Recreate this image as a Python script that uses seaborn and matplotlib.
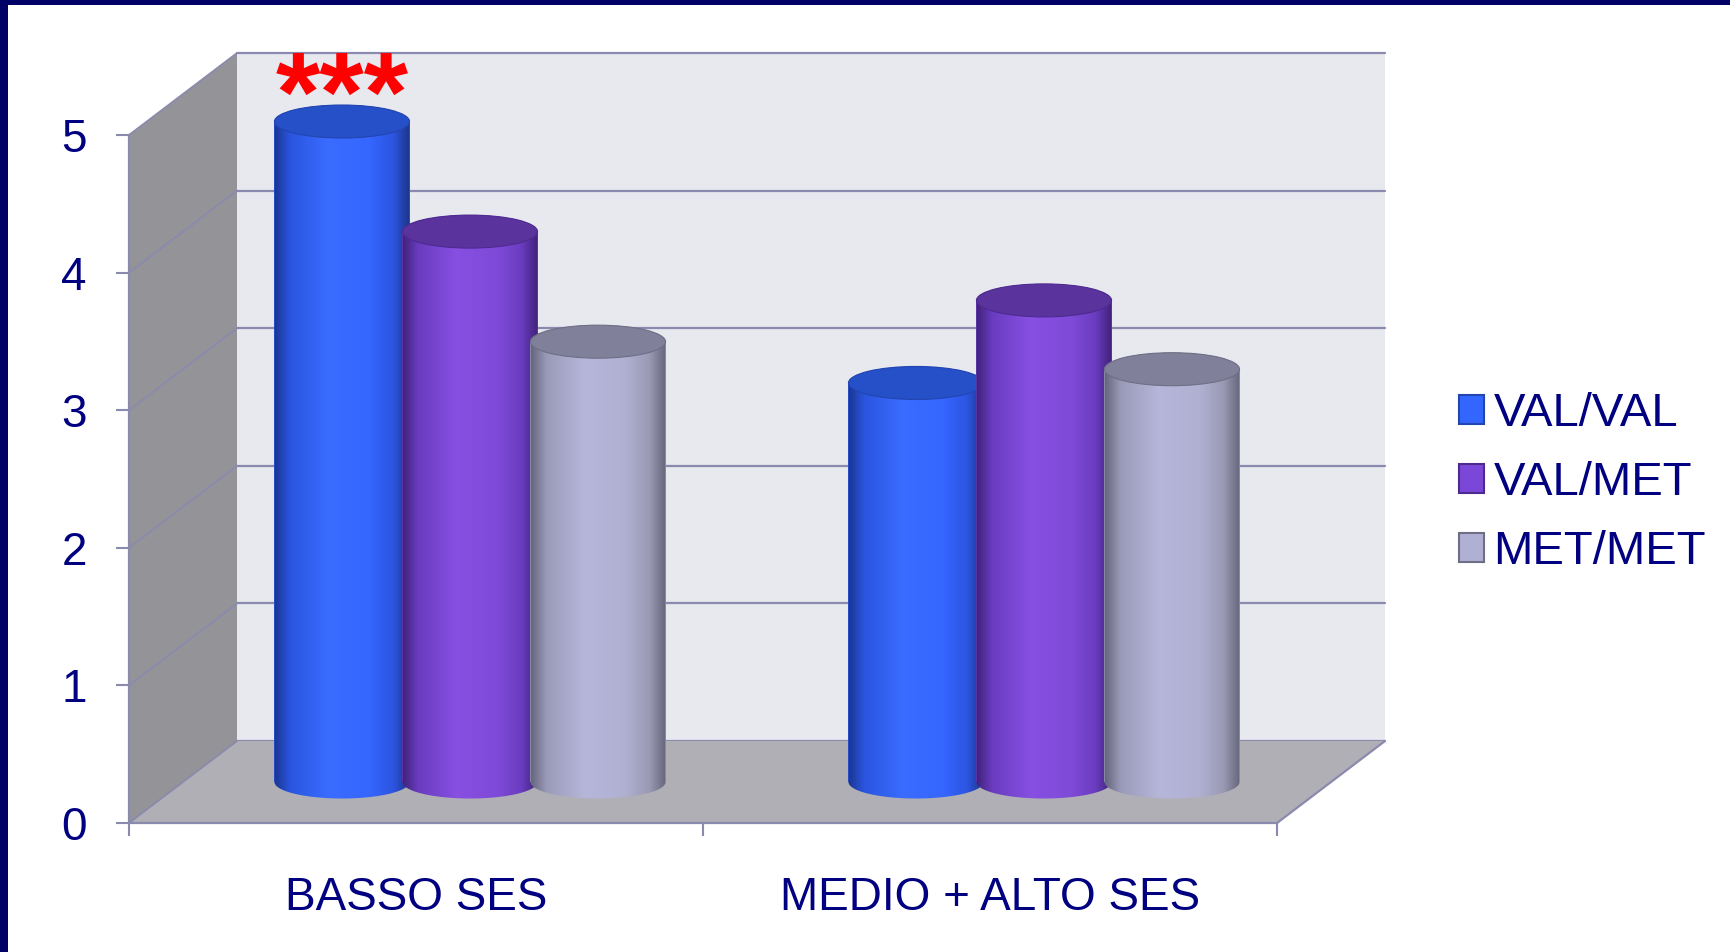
import numpy as np
import pandas as pd
import matplotlib
matplotlib.use("Agg")
import matplotlib.pyplot as plt
import seaborn as sns
from matplotlib.patches import Polygon, Ellipse, PathPatch, Rectangle, Patch
from matplotlib.path import Path
from matplotlib.colors import LinearSegmentedColormap
from matplotlib.lines import Line2D

# ---------------- data ----------------
groups = ["BASSO SES", "MEDIO + ALTO SES"]
genotypes = ["VAL/VAL", "VAL/MET", "MET/MET"]
val_val = [4.8, 2.9]
val_met = [4.0, 3.5]
met_met = [3.2, 3.0]
y_ticks = [0, 1, 2, 3, 4, 5]
significance = ["***", ""]

df = pd.DataFrame({
    "gruppo": groups * 3,
    "genotipo": [g for g in genotypes for _ in groups],
    "valore": val_val + val_met + met_met,
})

# ---------------- style ----------------
sns.set_theme(style="white")
plt.rcParams["font.family"] = ["Liberation Sans", "DejaVu Sans"]
NAVY = "#000080"
GRID = "#8a8aae"
base_colors = {"VAL/VAL": "#3366ff", "VAL/MET": "#7b47d8", "MET/MET": "#b0b0d4"}
edge_colors = {"VAL/VAL": "#2345b0", "VAL/MET": "#4d2a90", "MET/MET": "#6e6e86"}
top_colors = {"VAL/VAL": "#2550c8", "VAL/MET": "#5a349c", "MET/MET": "#80809a"}
grad_colors = {
    "VAL/VAL": ["#1a3590", "#2a55e0", "#3a6cff", "#3566ff", "#2c55e0", "#1c3488"],
    "VAL/MET": ["#3e2278", "#6a3cc0", "#874fe2", "#7f4ad8", "#6a3cc0", "#40227a"],
    "MET/MET": ["#62627a", "#9a9ab8", "#b6b6da", "#b0b0d2", "#9a9ab4", "#66667c"],
}

W, H = 1730, 952
fig = plt.figure(figsize=(W / 100, H / 100), dpi=100)
fig.patch.set_facecolor("white")


def rect(l, top, r, bot):
    return [l / W, 1 - bot / H, (r - l) / W, (bot - top) / H]


def fp(x, y):
    return (x / W, 1 - y / H)


DX, DY = 108, 82
FL, FR, F0, F5 = 129, 1277, 823, 135

ax_back = fig.add_axes(rect(FL + DX, F5 - DY, FR + DX, F0 - DY), zorder=0)
ax_front = fig.add_axes(rect(FL, F5, FR, F0), zorder=1)
ax = fig.add_axes(rect(FL + DX / 2, F5 - DY / 2, FR + DX / 2, F0 - DY / 2), zorder=2)

for a in (ax_back, ax_front, ax):
    a.set_xlim(-0.5, 1.5)
    a.set_ylim(0, 5)

# back wall
ax_back.set_facecolor("#e8e8ef")
for s in ax_back.spines.values():
    s.set_visible(False)
ax_back.set_xticks([])
ax_back.set_yticks([])
for t in y_ticks:
    ax_back.axhline(t, color=GRID, lw=1.6, clip_on=False)

# side wall and floor (3D decoration)
side = Polygon([fp(FL, F0), fp(FL, F5), fp(FL + DX, F5 - DY), fp(FL + DX, F0 - DY)],
               closed=True, transform=fig.transFigure, facecolor="#939398",
               edgecolor="none", zorder=0.5)
floor = Polygon([fp(FL, F0), fp(FL + DX, F0 - DY), fp(FR + DX, F0 - DY), fp(FR, F0)],
                closed=True, transform=fig.transFigure, facecolor="#b0afb5",
                edgecolor="none", zorder=0.5)
fig.add_artist(side)
fig.add_artist(floor)
step = (F0 - F5) / 5
for k in range(6):
    yf = F0 - k * step
    fig.add_artist(Line2D([FL / W, (FL + DX) / W], [1 - yf / H, 1 - (yf - DY) / H],
                          transform=fig.transFigure, color=GRID, lw=1.3, zorder=0.6))
fig.add_artist(Line2D([FR / W, (FR + DX) / W], [1 - F0 / H, 1 - (F0 - DY) / H],
                      transform=fig.transFigure, color=GRID, lw=1.6, zorder=0.6))

# front plane axis
ax_front.set_facecolor("none")
for k, s in ax_front.spines.items():
    s.set_visible(k in ("left", "bottom"))
    s.set_color(GRID)
    s.set_linewidth(1.6)
ax_front.set_yticks(y_ticks)
ax_front.set_yticklabels([str(t) for t in y_ticks])
ax_front.tick_params(axis="y", left=True, direction="out", length=9.5, width=1.5,
                     color=GRID, pad=21, labelsize=33, labelcolor=NAVY)
ax_front.set_xticks([0, 1])
ax_front.set_xticklabels(groups)
ax_front.set_xticks([-0.5, 0.5, 1.5], minor=True)
ax_front.tick_params(axis="x", which="major", bottom=True, length=0, pad=38,
                     labelsize=33, labelcolor=NAVY)
ax_front.tick_params(axis="x", which="minor", bottom=True, direction="out",
                     length=9.5, width=1.5, color=GRID)

# bars (mid-depth plane)
ax.set_facecolor("none")
sns.barplot(data=df, x="gruppo", y="valore", hue="genotipo", order=groups,
            hue_order=genotypes, palette=base_colors, width=0.669, ax=ax,
            errorbar=None, saturation=1, legend=False)
for s in ax.spines.values():
    s.set_visible(False)
ax.set_xticks([])
ax.set_yticks([])
ax.set_xlabel("")
ax.set_ylabel("")
ax.set_xlim(-0.5, 1.5)
ax.set_ylim(0, 5)

e = 0.12  # half-height of the elliptical caps (data units)
bars = list(ax.patches)
n_groups = len(groups)
for i, p in enumerate(bars):
    g = genotypes[i // n_groups]
    w0 = p.get_width()
    xc = p.get_x() + w0 / 2
    w = w0 * 1.055
    p.set_x(xc - w / 2)
    p.set_width(w)
    h = p.get_height()
    p.set_edgecolor("none")
    z = 2 + i * 0.1
    p.set_zorder(z)
    r = w / 2
    tb = np.linspace(np.pi, 2 * np.pi, 60)
    tt = np.linspace(0, np.pi, 60)
    verts = ([(xc + r * np.cos(t), e * np.sin(t)) for t in tb]
             + [(xc + r * np.cos(t), h + e * np.sin(t)) for t in tt])
    verts.append(verts[0])
    codes = [Path.MOVETO] + [Path.LINETO] * (len(verts) - 2) + [Path.CLOSEPOLY]
    clip = PathPatch(Path(verts, codes), transform=ax.transData, facecolor="none",
                     edgecolor="none")
    cmap = LinearSegmentedColormap.from_list(
        "c%d" % i, list(zip([0, 0.12, 0.4, 0.7, 0.88, 1.0], grad_colors[g])))
    im = ax.imshow(np.linspace(0, 1, 256).reshape(1, -1), cmap=cmap,
                   extent=[xc - r, xc + r, -e, h + e], aspect="auto",
                   interpolation="bicubic", zorder=z + 0.01)
    im.set_clip_path(clip)
    im.set_clip_box(fig.bbox)
    ax.add_patch(Ellipse((xc, h), width=w, height=2 * e, facecolor=top_colors[g],
                         edgecolor=edge_colors[g], lw=0.8, zorder=z + 0.05,
                         clip_on=False))

ax.set_xlim(-0.5, 1.5)
ax.set_ylim(0, 5)

# significance stars
for j, lab in enumerate(significance):
    if lab:
        p = bars[j]
        ax.annotate(lab, xy=(p.get_x() + p.get_width() / 2, p.get_height()),
                    xytext=(0, -7), textcoords="offset points", ha="center",
                    va="baseline", fontsize=82, fontweight="bold", color="red",
                    annotation_clip=False, zorder=5)

# legend
handles = [Patch(facecolor=base_colors[g], edgecolor=edge_colors[g], lw=1.5, label=g)
           for g in genotypes]
fig.legend(handles=handles, loc="center left", bbox_to_anchor=(1459 / W, 1 - 483 / H),
           frameon=False, fontsize=34, labelcolor=NAVY, handlelength=0.53,
           handleheight=0.58, handletextpad=0.2, labelspacing=0.53, borderpad=0,
           borderaxespad=0)

# slide frame
fig.add_artist(Rectangle((0, 1 - 5 / H), 1, 5 / H, transform=fig.transFigure,
                         facecolor="#000066", edgecolor="none", zorder=10))
fig.add_artist(Rectangle((0, 0), 8 / W, 1, transform=fig.transFigure,
                         facecolor="#000066", edgecolor="none", zorder=10))

fig.savefig("out.png", dpi=100)
